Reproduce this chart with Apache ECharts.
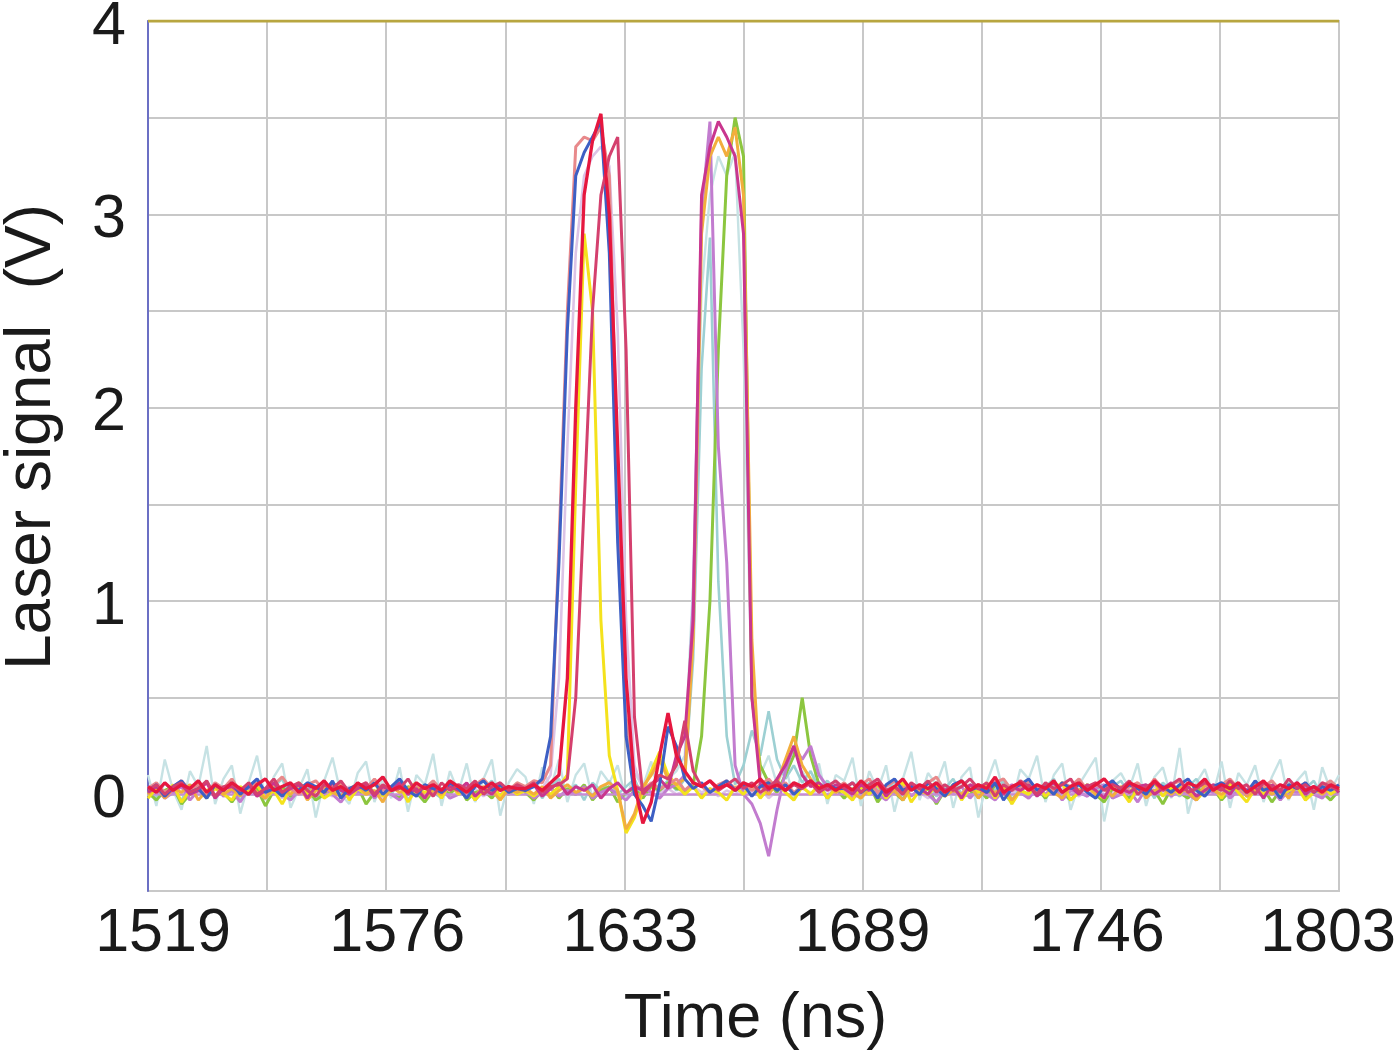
<!DOCTYPE html>
<html>
<head>
<meta charset="utf-8">
<script src="https://cdn.jsdelivr.net/npm/echarts@6/dist/echarts.min.js"></script>
<style>
html,body{margin:0;padding:0;background:#fff;}
#chart{width:1400px;height:1050px;}
</style>
</head>
<body>
<div id="chart"></div>
<script>
// ---------- DATA ----------
const T0 = 1519;           // first time on the axis (ns)
const T1 = 1803;           // last time on the axis (ns)
const xTickLabels = ['1519', '1576', '1633', '1689', '1746', '1803'];
const yTickLabels = ['0', '1', '2', '3', '4'];

// sample times (ns), shared by all traces
const times = [
1519,1521,1523,1525,1527,1529,1531,1533,1535,1537,
1539,1541,1543,1545,1547,1549,1551,1553,1555,1557,
1559,1561,1563,1565,1567,1569,1571,1573,1575,1577,
1579,1581,1583,1585,1587,1589,1591,1593,1595,1597,
1599,1601,1603,1605,1607,1609,1611,1613,1615,1617,
1619,1621,1623,1625,1627,1629,1631,1633,1635,1637,
1639,1641,1643,1645,1647,1649,1651,1653,1655,1657,
1659,1661,1663,1665,1667,1669,1671,1673,1675,1677,
1679,1681,1683,1685,1687,1689,1691,1693,1695,1697,
1699,1701,1703,1705,1707,1709,1711,1713,1715,1717,
1719,1721,1723,1725,1727,1729,1731,1733,1735,1737,
1739,1741,1743,1745,1747,1749,1751,1753,1755,1757,
1759,1761,1763,1765,1767,1769,1771,1773,1775,1777,
1779,1781,1783,1785,1787,1789,1791,1793,1795,1797,
1799,1801,1803];

// each trace: values (V) for 1519..1607, 1609..1683, 1685..1803
const paleCyanPre = [.10,-.06,.18,.02,-.08, .12,.04,.25,-.05,.08, .15,-.10,.06,.20,-.03, .09,.16,-.07,.03,.13, -.12,.07,.19,.00,-.05, .11,.17,-.04,.08,-.02, .14,-.09,.10,.05,.21, -.06,.12,.01,.16,-.04, .08,.18,-.11,.06,.13];
const paleCyanPulse = [.09,-.05,.14,.03,.18, -.04,.10,.16,-.02,.12, .06,.15,-.03,.11,.04, .17,-.02,.08,.12,.20, 1.10,2.60,3.10,3.30,3.20, 3.32,2.30,.50,.10,.20, .05,.15,-.03,.12,.04, .16,-.05,.10];
const paleCyanPost = [.07,.19,-.06,.12,.02, .15,-.09,.08,.22,-.03, .11,.05,.17,-.07,.09, .14,-.12,.06,.18,.01, -.05,.13,.08,.20,-.04, .10,.16,-.08,.05,.12, .19,-.14,.07,.11,.03, .16,-.06,.09,.14,-.02, .24,-.10,.06,.13,.00, .17,-.07,.11,.05,.15, -.04,.09,.18,-.03,.07, .12,-.08,.14,.02,.10];

const lavenderPre = [.01,.03,-.01,.02,.04, .00,.02,-.02,.03,.01, .04,-.01,.02,.00,.03, .01,-.02,.04,.02,.00, .03,.01,-.01,.02,.04, .00,.03,.01,-.02,.02, .04,.00,.01,.03,-.01, .02,.04,.00,.01,.03, -.01,.02,.00,.04,.01];
const lavenderPulse = [.02,.00,.03,.10,.60, 1.80,2.80,3.20,3.30,3.35, 3.25,2.40,.90,.15,.02, .04,.01,.03,.00,.02, .04,.01,.03,-.01,.02, .00,.04,.01,.03,-.02, .02,.04,.00,.03,.01, .02,.00,.03];
const lavenderPost = [.02,.00,.03,.01,-.01, .03,.02,.00,.04,.01, -.02,.02,.03,.00,.01, .04,-.01,.02,.00,.03, .01,.02,-.02,.04,.00, .02,.03,.01,-.01,.02, .04,.00,.01,.03,-.02, .02,.00,.04,.01,.03, -.01,.02,.00,.03,.01, .04,-.02,.02,.01,.00, .03,.02,-.01,.04,.00, .02,.01,.03,-.02,.02];

const cyanPre = [.04,-.02,.06,.01,-.03, .05,.02,.07,-.01,.03, .06,-.03,.02,.05,.00, .04,.08,-.02,.03,.06, -.03,.02,.05,.01,-.02, .06,.03,-.01,.04,.00, .07,-.03,.03,.05,.01, -.02,.06,.02,.04,-.01, .03,.07,-.02,.02,.05];
const cyanPulse = [.03,.06,-.02,.04,.08, .01,.05,-.03,.06,.02, .07,.00,.04,.08,-.02, .05,.03,.07,.02,.08, .70,2.20,2.88,1.10,.30, .05,.15,.33,.20,.43, .18,.08,.15,.06,.12, .03,.07,.02];
const cyanPost = [.05,.01,-.02,.06,.03, .00,.07,-.03,.04,.02, .06,-.01,.03,.08,.00, .04,-.02,.05,.02,.07, -.03,.03,.06,.00,.04, .08,-.02,.02,.05,.01, .06,-.03,.04,.07,.00, .03,.05,-.02,.06,.02, -.01,.04,.08,.01,.03, .06,-.02,.05,.00,.07, .02,.04,-.03,.06,.01, .03,.07,-.01,.04,.02];

const greenPre = [.01,-.03,.02,.04,-.05, .00,.03,-.02,.05,.01, -.04,.02,.00,.03,-.06, .02,.04,-.01,.01,.03, -.03,.00,.05,-.02,.02, .04,-.05,.01,.03,.00, -.02,.04,.01,-.04,.02, .03,.00,.05,-.03,.01, .02,-.02,.04,.00,.03];
const greenPulse = [.01,-.03,.02,.04,-.02, .03,.00,.05,-.03,.02, .04,-.04,.01,.03,-.02, .04,.02,.06,.03,.02, .05,.30,1.00,2.30,3.20, 3.50,3.30,.50,.15,.06, .01,.10,.20,.50,.20, .05,-.02,.03];
const greenPost = [-.02,.03,.00,.05,-.04, .02,.01,-.03,.04,.00, .03,-.05,.02,.04,-.01, .00,.03,-.02,.05,.01, -.04,.02,.00,.03,-.02, .04,.01,-.03,.02,.05, .00,-.04,.03,.01,-.02, .04,.00,.02,-.05,.03, .01,-.02,.04,.00,.03, -.03,.02,.05,-.01,.01, .03,-.04,.02,.00,.04, -.02,.03,.01,-.03,.02];

const orchidPre = [.00,.03,-.02,.01,.04, -.03,.02,.00,.05,-.01, .02,-.04,.03,.01,-.02, .04,.00,-.03,.02,.05, -.01,.03,.00,-.04,.02, .01,.05,-.02,.03,.00, -.03,.02,.04,-.01,.01, .03,-.02,.00,.05,-.03, .02,.01,-.01,.04,.00];
const orchidPulse = [.02,-.02,.01,.03,-.01, .02,.00,.04,-.02,.01, .03,.00,-.03,.02,.04, .01,-.02,.03,.05,.10, 1.00,3.00,3.48,1.80,1.20, .15,.00,-.05,-.15,-.32, -.08,.12,.25,.18,.25, .10,.04,.01];
const orchidPost = [.03,-.02,.01,.04,.00, -.03,.02,.05,-.01,.03, .00,-.04,.02,.01,.04, -.02,.03,.00,-.03,.02, .05,.01,-.02,.03,.00, .04,-.03,.02,.01,-.01, .03,.05,-.02,.00,.02, -.04,.03,.01,.04,-.01, .02,.00,-.03,.03,.01, .04,-.02,.02,.00,.05, -.01,.03,-.03,.02,.01, .04,.00,-.02,.03,.01];

const yellowPre = [-.02,.03,.00,.05,-.04, .02,.06,-.01,.03,.00, -.03,.04,.01,.05,-.02, .02,-.05,.03,.06,.00, .04,-.02,.01,.05,-.03, .03,.00,.06,-.01,.02, .05,-.04,.03,.01,.04, -.02,.06,.00,.03,-.03, .02,.05,-.01,.04,.00];
const yellowPulse = [.02,-.01,.03,.00,.04, .10,1.60,2.90,2.50,.90, .20,.02,-.20,-.12,.02, .12,.22,.10,.05,.00, .04,-.02,.03,.01,-.03, .04,.00,.05,-.02,.03, .06,.01,-.03,.04,.00, .05,-.02,.03];
const yellowPost = [.01,-.03,.04,.00,.05, -.02,.03,.06,-.04,.02, .00,.04,-.01,.05,-.03, .03,.01,.06,-.02,.04, -.05,.02,.00,.05,-.01, .03,.06,-.03,.01,.04, .00,-.02,.05,.02,-.04, .03,.01,.06,-.01,.04, .00,.05,-.03,.02,.04, -.02,.06,.01,-.04,.03, .00,.05,-.01,.02,.04, -.03,.01,.05,.00,.03];

const orangePre = [.00,.04,-.02,.03,.01, .05,-.03,.02,.04,.00, .03,-.01,.06,.01,-.02, .04,.02,.00,.05,-.03, .02,.04,.01,-.01,.03, .05,.00,.02,-.04,.04, .01,.03,.06,-.02,.02, .00,.05,.01,.03,-.01, .04,.02,-.03,.03,.01];
const orangePulse = [.03,.00,.04,-.02,.02, .05,.01,.03,-.01,.04, .06,.02,-.18,-.10,.04, .10,.18,.08,.05,.08, .80,2.90,3.30,3.40,3.30, 3.45,3.10,.80,.05,.00, .06,.18,.30,.15,.08, .02,.05,.01];
const orangePost = [.04,.01,-.02,.03,.05, .00,.02,-.03,.04,.01, .03,.06,-.01,.02,.00, .05,-.02,.03,.01,.04, -.03,.02,.05,.00,.03, .01,-.02,.04,.02,.05, .00,.03,-.01,.04,.01, .06,-.02,.02,.03,.00, .04,.01,-.03,.05,.02, .00,.03,.06,-.01,.02, .04,.00,.03,-.02,.05, .01,.03,.00,.04,.02];

const salmonPre = [.03,.06,.01,.04,.07, .02,.05,.00,.06,.03, .08,.01,.04,.06,.02, .05,.09,.03,.00,.05, .07,.02,.04,.06,.01, .05,.03,.08,.02,.04, .06,.00,.05,.03,.07, .02,.06,.04,.01,.05, .08,.03,.05,.02,.06];
const salmonPulse = [.04,.07,.06,.15,1.30, 2.50,3.35,3.40,3.38,3.45, 3.20,1.60,.40,.05,.02, .06,.03,.05,.08,.02, .06,.04,.01,.05,.07, .03,.06,.02,.05,.08, .03,.06,.01,.04,.07, .02,.05,.03];
const salmonPost = [.06,.02,.05,.08,.01, .04,.07,.03,.05,.00, .06,.09,.02,.04,.07, .03,.05,.01,.06,.08, .02,.04,.07,.03,.05, .01,.06,.04,.08,.02, .05,.03,.07,.00,.04, .06,.02,.08,.03,.05, .07,.01,.04,.06,.02, .05,.08,.03,.00,.06, .04,.07,.02,.05,.03, .06,.01,.04,.07,.03];

const magentaPre = [.01,.04,-.01,.03,.05, .00,.02,.06,-.02,.03, .04,.01,.05,-.01,.02, .06,.00,.03,.05,-.02, .04,.01,.06,.02,.00, .03,.05,-.01,.04,.02, .06,.00,.03,-.02,.05, .01,.04,.02,.06,-.01, .03,.00,.05,.02,.04];
const magentaPulse = [.02,.05,-.01,.03,.06, .00,.04,.02,.05,-.02, .03,.06,.01,.04,.02, .05,.08,.03,.20,.30, .90,3.10,3.35,3.48,3.40, 3.30,2.90,.50,.05,.02, .08,.15,.25,.10,.04, .06,.02,.05];
const magentaPost = [.03,.00,.05,.02,.06, -.01,.04,.01,.05,.03, .00,.06,.02,.04,-.02, .05,.03,.01,.06,.00, .04,.02,.05,-.01,.03, .06,.01,.04,.00,.05, .02,-.02,.06,.03,.01, .04,.05,.00,.03,.06, .01,.04,-.01,.02,.05, .03,.00,.06,.02,.04, -.02,.05,.01,.03,.06, .00,.04,.02,.05,.01];

const bluePre = [.02,.05,-.01,.04,.07, .01,.03,-.02,.05,.02, .06,.00,.04,.08,.01, .03,-.01,.05,.02,.06, .04,.01,.07,-.02,.03, .05,.02,.06,.00,.04, .08,.02,-.01,.05,.03, .01,.06,.03,-.02,.04, .07,.02,.05,.01,.03];
const bluePulse = [.02,.04,.08,.30,1.20, 2.40,3.20,3.32,3.40,3.48, 2.80,1.30,.30,.00,-.06, -.14,.05,.35,.25,.08, .03,.06,.01,.04,.07, .02,.05,-.01,.04,.06, .02,.05,.00,.04,.07, .02,.05,.03];
const bluePost = [.03,.06,.01,.04,-.02, .05,.08,.02,.04,.00, .06,.03,-.01,.05,.07, .02,.04,.01,.06,-.03, .03,.05,.08,.02,.04, .00,.06,.03,.05,.01, -.02,.04,.07,.02,.05, .03,.00,.06,.04,.01, .05,.08,.02,-.01,.04, .06,.03,.05,.01,.07, .02,.04,-.02,.05,.03, .06,.01,.04,.02,.05];

const rosePre = [.02,.05,.00,.04,.06, .01,.03,.07,-.01,.04, .05,.02,.06,.00,.03, .08,.01,.04,.06,.02, -.01,.05,.03,.07,.01, .04,.06,.00,.05,.02, .03,.08,.01,.04,-.01, .06,.02,.05,.03,.07, .00,.04,.06,.02,.05];
const rosePulse = [.03,.06,.01,.04,.05, .08,.50,1.50,2.50,3.10, 3.30,3.40,2.30,.40,.00, .05,.10,.08,.15,.38, .12,.04,.07,.02,.05, .08,.03,.06,.01,.04, .07,.02,.05,.03,.06, .01,.04,.07];
const rosePost = [.03,.06,.01,.05,.08, .02,.04,.00,.06,.03, .07,.01,.05,.02,.04, .08,.03,.06,-.01,.05, .02,.07,.04,.00,.06, .03,.05,.08,.01,.04, .06,.02,.05,.03,.07, .00,.04,.06,.02,.05, .08,.01,.03,.06,.04, .02,.07,.03,.05,.00, .06,.04,.02,.08,.03, .05,.01,.06,.04,.02];

const redPre = [.04,.01,.06,.02,.05, .03,.07,.01,.05,.02, .06,.03,.00,.05,.08, .02,.04,.06,.01,.05, .03,.07,.02,.04,.01, .06,.03,.05,.09,.02, .04,.01,.06,.03,.05, .02,.07,.04,.01,.05, .03,.06,.02,.04,.03];
const redPulse = [.03,.05,.02,.06,.10, .60,2.00,3.10,3.38,3.52, 3.00,1.80,.60,.05,-.15, -.04,.20,.42,.20,.12, .06,.04,.07,.03,.05, .02,.06,.04,.08,.03, .05,.02,.06,.04,.07, .03,.05,.02];
const redPost = [.05,.02,.07,.03,.06, .01,.04,.08,.02,.05, .03,.06,.01,.04,.07, .02,.05,.03,.09,.01, .04,.06,.02,.05,.03, .07,.01,.04,.06,.02, .05,.08,.03,.01,.06, .04,.02,.07,.03,.05, .01,.06,.04,.08,.02, .05,.03,.06,.01,.04, .07,.02,.05,.03,.06, .02,.04,.01,.05,.03];

// flat reference trace and saturated trace
const flatTimes = [1519, 1803];
const flatValues = [0, 0];
const ceilingValues = [4, 4];

// ---------- BUILD ----------
const xStep = (T1 - T0) / 10;
function build(pre, pulse, post) {
  const v = pre.concat(pulse, post);
  return times.map((t, i) => [t - T0, v[i]]);
}
const traces = [
  {name: 'paleCyan', color: '#c6e2e4', w: 2.4, d: build(paleCyanPre, paleCyanPulse, paleCyanPost)},
  {name: 'lavender', color: '#dcc4e6', w: 2.6, d: build(lavenderPre, lavenderPulse, lavenderPost)},
  {name: 'cyan', color: '#9dd0d3', w: 2.6, d: build(cyanPre, cyanPulse, cyanPost)},
  {name: 'green', color: '#8cc63f', w: 3, d: build(greenPre, greenPulse, greenPost)},
  {name: 'orchid', color: '#c27ccf', w: 3, d: build(orchidPre, orchidPulse, orchidPost)},
  {name: 'yellow', color: '#f4e21c', w: 3, d: build(yellowPre, yellowPulse, yellowPost)},
  {name: 'orange', color: '#f2ae3d', w: 3, d: build(orangePre, orangePulse, orangePost)},
  {name: 'salmon', color: '#e8898b', w: 3, d: build(salmonPre, salmonPulse, salmonPost)},
  {name: 'magenta', color: '#c9368e', w: 3, d: build(magentaPre, magentaPulse, magentaPost)},
  {name: 'blue', color: '#3d5fc4', w: 3, d: build(bluePre, bluePulse, bluePost)},
  {name: 'rose', color: '#d4406e', w: 3, d: build(rosePre, rosePulse, rosePost)},
  {name: 'red', color: '#e6173f', w: 3.3, d: build(redPre, redPulse, redPost)}
];

const series = traces.map(tr => ({
  name: tr.name, type: 'line', data: tr.d, showSymbol: false, symbol: 'none',
  lineStyle: {color: tr.color, width: tr.w}, itemStyle: {color: tr.color},
  animation: false, silent: true
}));
series.splice(5, 0, {
  name: 'flat', type: 'line', symbol: 'none',
  data: flatTimes.map((t, i) => [t - T0, flatValues[i]]),
  lineStyle: {color: '#c98bd4', width: 2.4}, animation: false, silent: true
});
series.push({
  name: 'ceiling', type: 'line', symbol: 'none',
  data: flatTimes.map((t, i) => [t - T0, ceilingValues[i]]),
  lineStyle: {color: '#b8a640', width: 3}, animation: false, silent: true
});

const FONT = '"Liberation Sans", Arial, Helvetica, sans-serif';
const shifts = [30, 22, 12, 0, -8, -22];
const rich = {};
shifts.forEach((s, i) => {
  rich['s' + i] = {
    fontSize: 61, fontFamily: FONT, color: '#1a1a1a',
    padding: s >= 0 ? [0, 0, 0, s] : [0, -s, 0, 0]
  };
});
const yRich = {
  d: {fontSize: 61, fontFamily: FONT, color: '#1a1a1a', padding: [12, 0, 0, 0]}
};

const chart = echarts.init(document.getElementById('chart'), null, {renderer: 'canvas'});
chart.setOption({
  animation: false,
  backgroundColor: '#ffffff',
  grid: {left: 148, right: 61, top: 21, bottom: 159, show: true, borderColor: '#c8c8c8', borderWidth: 2,
         containLabel: false, outerBoundsMode: 'none'},
  xAxis: {
    type: 'value', min: 0, max: T1 - T0, interval: xStep,
    name: 'Time (ns)', nameLocation: 'middle', nameGap: 97,
    nameTextStyle: {fontSize: 63, fontFamily: FONT, color: '#1a1a1a', padding: [0, 0, 0, 24]},
    axisLine: {show: true, lineStyle: {color: '#c8c8c8', width: 2}},
    axisTick: {show: false},
    splitLine: {show: true, lineStyle: {color: '#c8c8c8', width: 2}},
    axisLabel: {
      margin: 13, showMinLabel: true, showMaxLabel: true,
      fontSize: 61, fontFamily: FONT, color: '#1a1a1a', rich: rich,
      formatter: function (val) {
        const k = Math.round(val / xStep);
        if (k % 2 !== 0) return '';
        const j = k / 2;
        return '{s' + j + '|' + xTickLabels[j] + '}';
      }
    }
  },
  yAxis: {
    type: 'value', min: -0.5, max: 4, interval: 0.5,
    name: 'Laser signal  (V)', nameLocation: 'middle', nameGap: 84, nameRotate: 90,
    nameTextStyle: {fontSize: 64, fontFamily: FONT, color: '#1a1a1a', padding: [0, 0, 0, 38]},
    axisLine: {show: true, lineStyle: {color: '#6b6fc4', width: 2}},
    axisTick: {show: false},
    splitLine: {show: true, lineStyle: {color: '#c8c8c8', width: 2}},
    axisLabel: {
      margin: 22, fontSize: 61, fontFamily: FONT, color: '#1a1a1a', rich: yRich,
      formatter: function (v) {
        const r = Math.round(v);
        if (Math.abs(v - r) > 1e-6 || r < 0) return '';
        return '{d|' + yTickLabels[r] + '}';
      }
    }
  },
  series: series
});
</script>
</body>
</html>
